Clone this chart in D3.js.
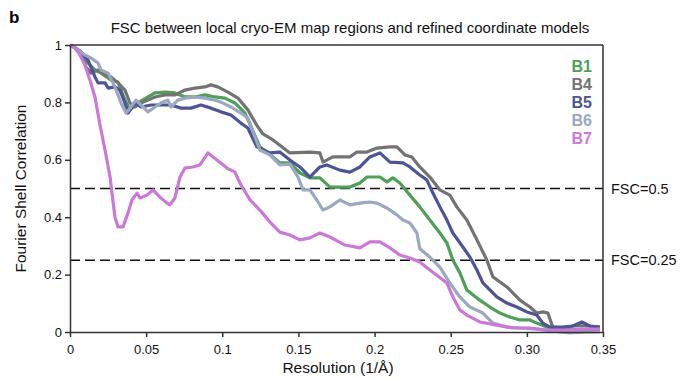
<!DOCTYPE html>
<html>
<head>
<meta charset="utf-8">
<script src="https://cdn.jsdelivr.net/npm/d3@7"></script>
<style>
  body { margin: 0; background: #fff; }
  svg { display: block; font-family: 'Liberation Sans', Arial, sans-serif; }
</style>
</head>
<body>
<div id="chart"></div>
<script>
// resolution (1/A) and FSC pairs
const b1Res = [0.0007,0.0072,0.0118,0.0164,0.0204,0.0269,0.0315,0.0361,0.0394,0.0446,0.0512,0.0558,0.0624,0.0689,0.0755,0.0821,0.0886,0.0952,0.1017,0.1083,0.1149,0.1168,0.1247,0.1333,0.1378,0.1444,0.151,0.1575,0.1641,0.1707,0.1838,0.1904,0.195,0.2035,0.2081,0.212,0.2166,0.2232,0.2297,0.2363,0.2429,0.2475,0.2514,0.256,0.2606,0.2691,0.2757,0.2823,0.2888,0.2954,0.302,0.3065,0.3131,0.3216,0.3348,0.3479];
const b1Fsc = [1.0,0.976,0.937,0.913,0.902,0.878,0.871,0.808,0.774,0.798,0.819,0.833,0.836,0.833,0.819,0.819,0.826,0.819,0.815,0.798,0.763,0.74,0.645,0.61,0.589,0.589,0.554,0.537,0.537,0.505,0.505,0.519,0.54,0.54,0.523,0.537,0.519,0.477,0.436,0.39,0.345,0.31,0.251,0.206,0.146,0.111,0.087,0.066,0.052,0.042,0.042,0.031,0.017,0.014,0.007,0.007];

const b4Res = [0.0007,0.0072,0.0105,0.0138,0.0184,0.023,0.0269,0.0315,0.0361,0.0394,0.0427,0.0466,0.0512,0.0558,0.0624,0.0689,0.0755,0.0821,0.0886,0.0926,0.0971,0.1037,0.1103,0.1168,0.1227,0.1267,0.1333,0.1444,0.1575,0.1641,0.1661,0.1726,0.1838,0.1884,0.195,0.2015,0.2101,0.2147,0.2199,0.2245,0.2297,0.2363,0.2429,0.2494,0.254,0.2606,0.2672,0.2737,0.2777,0.2869,0.2954,0.302,0.3065,0.3105,0.3138,0.317,0.3216,0.3302,0.3394,0.3479];
const b4Fsc = [1.0,0.972,0.923,0.902,0.913,0.895,0.889,0.868,0.843,0.798,0.784,0.798,0.808,0.819,0.826,0.826,0.843,0.85,0.854,0.861,0.854,0.836,0.815,0.774,0.72,0.69,0.669,0.624,0.627,0.624,0.592,0.61,0.61,0.627,0.627,0.641,0.645,0.645,0.617,0.61,0.575,0.54,0.495,0.477,0.436,0.39,0.321,0.251,0.192,0.157,0.111,0.087,0.066,0.07,0.066,0.017,0.014,0.021,0.021,0.017];

const b5Res = [0.0007,0.0072,0.0118,0.0164,0.0184,0.023,0.025,0.0295,0.0328,0.0361,0.0381,0.0427,0.0466,0.0532,0.0597,0.0663,0.0729,0.0794,0.086,0.0926,0.0991,0.1057,0.1122,0.1168,0.1227,0.1313,0.1378,0.1444,0.151,0.1575,0.1641,0.1687,0.1772,0.1838,0.1904,0.1969,0.2035,0.2101,0.2186,0.2232,0.2297,0.2343,0.2383,0.2429,0.2475,0.2514,0.258,0.2626,0.2672,0.2711,0.2803,0.2869,0.2934,0.3,0.3065,0.3105,0.3151,0.3236,0.3302,0.3361,0.3413,0.3479];
const b5Fsc = [1.0,0.976,0.948,0.889,0.868,0.868,0.85,0.854,0.843,0.798,0.763,0.798,0.784,0.791,0.791,0.791,0.78,0.78,0.791,0.78,0.767,0.756,0.728,0.711,0.645,0.624,0.627,0.599,0.575,0.54,0.575,0.582,0.564,0.557,0.575,0.61,0.624,0.592,0.589,0.575,0.547,0.53,0.484,0.436,0.39,0.345,0.296,0.261,0.216,0.171,0.122,0.101,0.087,0.07,0.059,0.031,0.017,0.017,0.021,0.035,0.021,0.017];

const b6Res = [0.0007,0.0098,0.0138,0.0184,0.0204,0.025,0.0295,0.0335,0.0368,0.04,0.0433,0.0466,0.0512,0.0558,0.0597,0.0643,0.0663,0.0709,0.0755,0.0821,0.0886,0.0952,0.0991,0.1057,0.1122,0.1168,0.1247,0.1313,0.1378,0.1444,0.1497,0.153,0.1575,0.1621,0.1661,0.1707,0.1772,0.1838,0.1904,0.1969,0.2015,0.2081,0.2147,0.2186,0.2232,0.2278,0.2297,0.2363,0.2429,0.2494,0.256,0.2626,0.2711,0.2777,0.2869,0.2954,0.3065,0.3216,0.3282,0.3394,0.3479];
const b6Fsc = [1.0,0.965,0.955,0.937,0.913,0.902,0.854,0.798,0.763,0.784,0.808,0.791,0.767,0.784,0.798,0.808,0.784,0.808,0.815,0.819,0.815,0.808,0.801,0.784,0.763,0.746,0.634,0.617,0.582,0.585,0.54,0.495,0.495,0.46,0.425,0.436,0.46,0.443,0.449,0.453,0.449,0.432,0.408,0.39,0.38,0.345,0.29,0.261,0.226,0.171,0.122,0.087,0.066,0.031,0.017,0.014,0.01,0.0,-0.003,0.0,0.0];

const b7Res = [0.0,0.0033,0.0066,0.0098,0.0131,0.0164,0.0197,0.023,0.0263,0.0295,0.0315,0.0348,0.0381,0.0407,0.044,0.046,0.0505,0.0545,0.0591,0.0637,0.0656,0.0689,0.0722,0.0755,0.0807,0.0853,0.0906,0.0965,0.1031,0.1083,0.1116,0.1182,0.1214,0.1263,0.1313,0.1378,0.1444,0.151,0.1575,0.1641,0.1707,0.1805,0.1904,0.1969,0.2035,0.2101,0.2166,0.2232,0.2297,0.2363,0.2475,0.2514,0.256,0.2606,0.2691,0.2803,0.2908,0.302,0.3131,0.3262,0.3394,0.3479];
const b7Fsc = [1.0,0.99,0.965,0.93,0.878,0.819,0.721,0.634,0.54,0.401,0.366,0.366,0.415,0.46,0.484,0.467,0.477,0.495,0.47,0.449,0.443,0.467,0.54,0.571,0.575,0.582,0.624,0.599,0.571,0.557,0.519,0.46,0.443,0.415,0.383,0.348,0.338,0.321,0.328,0.345,0.331,0.303,0.293,0.314,0.314,0.293,0.268,0.258,0.244,0.216,0.171,0.122,0.077,0.059,0.035,0.024,0.014,0.014,0.007,0.007,0.01,0.01];

const seriesNames = ['B1', 'B4', 'B5', 'B6', 'B7'];
const seriesColors = ['#4e9f57', '#737373', '#4e5495', '#9ba8c2', '#cc78d8'];
const seriesRes = [b1Res, b4Res, b5Res, b6Res, b7Res];
const seriesFsc = [b1Fsc, b4Fsc, b5Fsc, b6Fsc, b7Fsc];

const xTicks = [0, 0.05, 0.1, 0.15, 0.2, 0.25, 0.3, 0.35];
const xTickLabels = ['0', '0.05', '0.1', '0.15', '0.2', '0.25', '0.30', '0.35'];
const yTicks = [0, 0.2, 0.4, 0.6, 0.8, 1];
const thresholds = [0.5, 0.25];
const thresholdLabels = ['FSC=0.5', 'FSC=0.25'];

const width = 683;
const height = 379;
const margin = { top: 45, right: 80, bottom: 47, left: 70 };
const innerW = width - margin.left - margin.right;
const innerH = height - margin.top - margin.bottom;

const svg = d3.select('#chart').append('svg').attr('width', width).attr('height', height);

const x = d3.scaleLinear().domain([0, 0.35]).range([margin.left, margin.left + innerW]);
const y = d3.scaleLinear().domain([0, 1]).range([margin.top + innerH, margin.top]);

// panel letter and title
svg.append('text').attr('x', 9).attr('y', 23).attr('font-size', 17).attr('font-weight', 'bold').text('b');
svg.append('text')
  .attr('x', 350)
  .attr('y', 33)
  .attr('text-anchor', 'middle')
  .attr('font-size', 15)
  .attr('fill', '#111')
  .text('FSC between local cryo-EM map regions and refined coordinate models');

// threshold lines
thresholds.forEach((t, i) => {
  svg.append('line')
    .attr('x1', x(0)).attr('x2', x(0.35))
    .attr('y1', y(t)).attr('y2', y(t))
    .attr('stroke', '#111').attr('stroke-width', 1.4).attr('stroke-dasharray', '10,5');
  svg.append('text')
    .attr('x', x(0.35) + 8).attr('y', y(t)).attr('dy', '0.35em')
    .attr('font-size', 14.5).attr('fill', '#111')
    .text(thresholdLabels[i]);
});

// curves
const line = d3.line().x((d) => x(d[0])).y((d) => y(d[1]));
seriesNames.forEach((name, i) => {
  const pts = seriesRes[i].map((r, j) => [r, seriesFsc[i][j]]);
  svg.append('path')
    .datum(pts)
    .attr('d', line)
    .attr('fill', 'none')
    .attr('stroke', seriesColors[i])
    .attr('stroke-width', 3.2)
    .attr('stroke-linejoin', 'round');
});

// frame
const frame = svg.append('g').attr('stroke', '#333').attr('stroke-width', 1.5);
frame.append('line').attr('x1', x(0)).attr('x2', x(0.35)).attr('y1', y(1)).attr('y2', y(1));
frame.append('line').attr('x1', x(0.35)).attr('x2', x(0.35)).attr('y1', y(0)).attr('y2', y(1));

const xAxis = svg.append('g')
  .attr('transform', `translate(0,${y(0)})`)
  .call(d3.axisBottom(x).tickValues(xTicks).tickFormat((d, i) => xTickLabels[i]).tickSize(5).tickSizeOuter(0));
const yAxis = svg.append('g')
  .attr('transform', `translate(${x(0)},0)`)
  .call(d3.axisLeft(y).tickValues(yTicks).tickFormat(d3.format('')).tickSize(5).tickSizeOuter(0));

[xAxis, yAxis].forEach((g) => {
  g.selectAll('path, line').attr('stroke', '#333').attr('stroke-width', 1.5);
  g.selectAll('text').attr('font-size', 13).attr('fill', '#111').attr('font-family', "'Liberation Sans', Arial, sans-serif");
});
xAxis.selectAll('text').attr('dy', '1.1em');

// axis titles
svg.append('text')
  .attr('x', 338).attr('y', 373)
  .attr('text-anchor', 'middle').attr('font-size', 15.5).attr('fill', '#111')
  .text('Resolution (1/Å)');
svg.append('text')
  .attr('transform', `translate(26,${y(0.5)}) rotate(-90)`)
  .attr('text-anchor', 'middle').attr('font-size', 15.5).attr('fill', '#111')
  .text('Fourier Shell Correlation');

// legend
seriesNames.forEach((name, i) => {
  svg.append('text')
    .attr('x', 592).attr('y', 72 + i * 18)
    .attr('text-anchor', 'end')
    .attr('font-size', 16).attr('font-weight', 'bold')
    .attr('fill', seriesColors[i])
    .text(name);
});
</script>
</body>
</html>
